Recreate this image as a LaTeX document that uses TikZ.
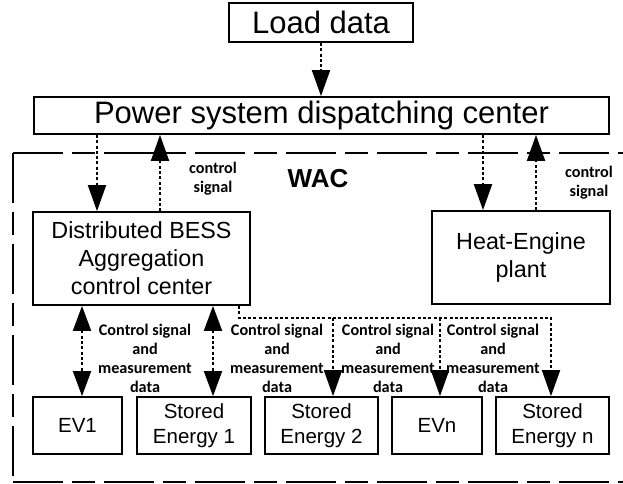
\documentclass[tikz,border=0pt]{standalone}
\usepackage{fontspec}
\setmainfont{Liberation Sans}
\newfontfamily\lblfont{Carlito}
\usetikzlibrary{arrows.meta}
\begin{document}
\begin{tikzpicture}[x=1pt,y=-1pt,
  box/.style={draw, line width=1.8pt, inner sep=0pt, align=center},
  bigtxt/.style={font=\fontsize{31}{36}\selectfont},
  midtxt/.style={font=\fontsize{23.3}{28}\selectfont},
  smalltxt/.style={font=\fontsize{20.5}{25}\selectfont},
  lbl/.style={font=\lblfont\bfseries\fontsize{16.2}{19}\selectfont, align=center, inner sep=0pt},
  conn/.style={line width=1.9pt, dash pattern=on 3pt off 2.3pt},
  tip/.style={-{Triangle[length=26pt,width=18pt]}},
  tiptwo/.style={{Triangle[length=25pt,width=18pt]}-{Triangle[length=25pt,width=18pt]}},
  wacline/.style={line width=1.8pt, dash pattern=on 50pt off 9pt on 23pt off 9pt}
]
\useasboundingbox (0,0) rectangle (623,483);
% WAC region
\draw[wacline] (13,153) -- (640,153);
\draw[wacline] (13,153) -- (13,482);
\draw[wacline] (13,482) -- (640,482);
% boxes
\node[box, bigtxt, minimum width=184pt, minimum height=39pt] (load) at (321,22.5) {Load data};
\node[box, bigtxt, minimum width=575pt, minimum height=37pt] (psdc) at (321.5,115.5) {Power system dispatching center};
\node[box, midtxt, minimum width=217pt, minimum height=93pt] (bess) at (141.5,258.5) {Distributed BESS\\Aggregation\\control center};
\node[box, midtxt, minimum width=178pt, minimum height=93pt] (heat) at (521,257.5) {Heat-Engine\\plant};
\node[box, smalltxt, minimum width=89pt, minimum height=57pt] (ev1) at (77.5,425.5) {EV1};
\node[box, smalltxt, minimum width=114pt, minimum height=57pt] (se1) at (194,425.5) {Stored\\Energy 1};
\node[box, smalltxt, minimum width=113pt, minimum height=57pt] (se2) at (321.5,425.5) {Stored\\Energy 2};
\node[box, smalltxt, minimum width=90pt, minimum height=57pt] (evn) at (437,425.5) {EVn};
\node[box, smalltxt, minimum width=113pt, minimum height=57pt] (sen) at (552.5,425.5) {Stored\\Energy n};
% labels
\node[font=\fontsize{26}{30}\selectfont\bfseries, inner sep=0pt] (wac) at (318,179) {WAC};
\node[lbl] (cs1) at (213,179) {control\\signal};
\node[lbl] (cs2) at (589,182.5) {control\\signal};
\node[lbl] (m1) at (145,358) {Control signal\\and\\measurement\\data};
\node[lbl] (m2) at (277,358) {Control signal\\and\\measurement\\data};
\node[lbl] (m3) at (388,358) {Control signal\\and\\measurement\\data};
\node[lbl] (m4) at (493,358) {Control signal\\and\\measurement\\data};
% connectors
\draw[conn, tip] (load.south) -- (psdc.north -| load.south);
\draw[conn, tip] (psdc.south -| 97,0) -- (bess.north -| 97,0);
\draw[conn, tip] (bess.north -| 160,0) -- (psdc.south -| 160,0);
\draw[conn, tip] (psdc.south -| 483,0) -- (heat.north -| 483,0);
\draw[conn, tip] (heat.north -| 536,0) -- (psdc.south -| 536,0);
\draw[conn, tiptwo] (bess.south -| 82,0) -- (ev1.north -| 82,0);
\draw[conn, tiptwo] (bess.south -| 213,0) -- (se1.north -| 213,0);
\coordinate (b2) at (333,318);
\coordinate (b3) at (440,318);
\coordinate (b4) at (551,318);
\draw[conn, tip] (bess.south -| 239,0) |- (b4) -- (sen.north -| b4);
\draw[conn, tip] (b2) -- (se2.north -| b2);
\draw[conn, tip] (b3) -- (evn.north -| b3);
\end{tikzpicture}
\end{document}
